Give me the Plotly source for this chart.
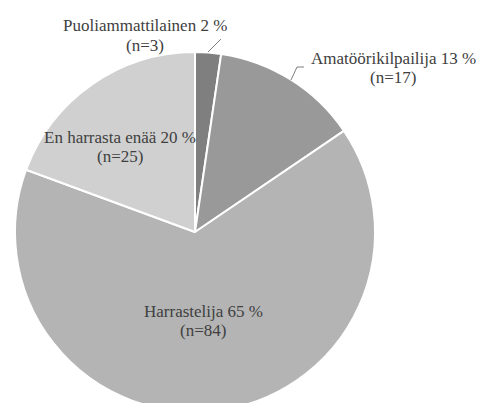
import plotly.graph_objects as go

categories = ["Puoliammattilainen", "Amatöörikilpailija", "Harrastelija", "En harrasta enää"]
counts = [3, 17, 84, 25]
percents = [2, 13, 65, 20]
colors = ["#7f7f7f", "#999999", "#b4b4b4", "#d0d0d0"]

W, H = 485, 420
OFF = 8  # page body margin
cx, cy, R = 195 - OFF, 232 - OFF, 180  # pixel geometry (layout)

FS = 17
FONT = dict(family="'Times New Roman', 'Liberation Serif', serif", size=FS, color="#404040")
LINE_GAP = 19.5

fig = go.Figure(go.Pie(
    labels=categories,
    values=counts,
    sort=False,
    direction="clockwise",
    rotation=0,
    marker=dict(colors=colors, line=dict(color="white", width=2)),
    textinfo="none",
    hoverinfo="label+value+percent",
    domain=dict(x=[(cx - R) / W, (cx + R) / W], y=[(H - cy - R) / H, (H - cy + R) / H]),
    showlegend=False,
))


def px(x, y):
    return (x - OFF) / W, 1 - (y - OFF) / H


# label anchor: (x center, first-line baseline) in reference pixels
label_pos = [(145, 32), (393, 64), (203, 317), (120, 143)]
for cat, n, p, (lx, ly) in zip(categories, counts, percents, label_pos):
    for i, line in enumerate([f"{cat} {p} %", f"(n={n})"]):
        ax_, ay_ = px(lx, ly + i * LINE_GAP - 6)
        fig.add_annotation(
            x=ax_, y=ay_, xref="paper", yref="paper",
            text=line, showarrow=False,
            font=FONT, align="center", xanchor="center", yanchor="middle",
        )

# leader lines
x0, y0 = px(208, 52); x1, y1 = px(221, 39)
fig.add_shape(type="line", xref="paper", yref="paper", x0=x0, y0=y0, x1=x1, y1=y1,
              line=dict(color="#7f7f7f", width=1))
pa = px(291, 80); pb = px(297, 67); pc = px(304, 67)
fig.add_shape(type="path", xref="paper", yref="paper",
              path=f"M {pa[0]} {pa[1]} L {pb[0]} {pb[1]} L {pc[0]} {pc[1]}",
              line=dict(color="#7f7f7f", width=1))

fig.update_layout(
    width=W, height=H,
    margin=dict(l=0, r=0, t=0, b=0),
    paper_bgcolor="white", plot_bgcolor="white",
    font=FONT,
)

fig.write_html("out.html")
